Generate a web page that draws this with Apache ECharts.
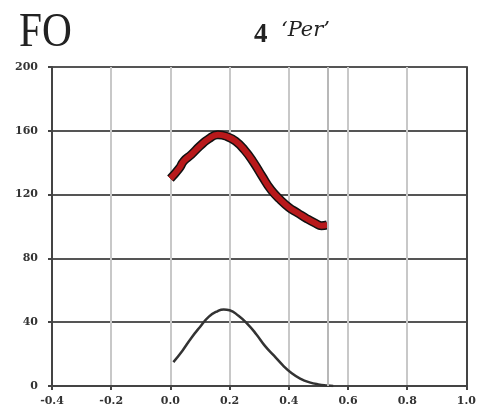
<!DOCTYPE html>
<html>
<head>
<meta charset="utf-8">
<style>
  html, body { margin: 0; padding: 0; background: #fff; }
  #chart { width: 479px; height: 419px; }
</style>
<script src="https://cdn.jsdelivr.net/npm/echarts@6/dist/echarts.min.js"></script>
</head>
<body>
<div id="chart"></div>
<script>
// Fitted profile (red) and the measured points underneath it (black)
const profileX = [0.00, 0.03, 0.045, 0.07, 0.10, 0.13, 0.16, 0.19, 0.22, 0.25, 0.28, 0.31, 0.34, 0.37, 0.40, 0.43, 0.46, 0.49, 0.51, 0.53];
const profileY = [130, 136.5, 141, 145, 150.5, 155, 157.5, 156.5, 153.5, 148, 140.5, 131.5, 123, 117, 112, 108.5, 105, 102, 100.5, 101];

// Lower distribution curve
const distX = [0.01, 0.04, 0.07, 0.10, 0.13, 0.16, 0.18, 0.20, 0.23, 0.26, 0.29, 0.32, 0.35, 0.38, 0.41, 0.44, 0.47, 0.50, 0.53, 0.55];
const distY = [15, 22, 30, 37, 43.5, 47, 48, 47.5, 44, 39, 32.5, 25, 19, 13, 8, 4.5, 2.3, 1, 0.3, 0];

// Axis ticks
const xTicks = [-0.4, -0.2, 0.0, 0.2, 0.4, 0.6, 0.8, 1.0];
const yTicks = [0, 40, 80, 120, 160, 200];

// End of the measured range
const cutoffX = 0.53;

const pairs = (xs, ys) => xs.map((x, i) => [x, ys[i]]);

const tickFont = {
  fontFamily: 'DejaVu Serif',
  fontWeight: 'bold',
  fontSize: 11,
  color: '#333'
};

const chart = echarts.init(document.getElementById('chart'));
chart.setOption({
  animation: false,
  backgroundColor: '#fff',
  grid: { left: 52, right: 7, top: 67, bottom: 33 },
  graphic: [
    {
      type: 'text', left: 19, top: 9, scaleX: 0.86,
      style: { text: 'FO', font: '48px "Liberation Serif"', fill: '#222' }
    },
    {
      type: 'text', left: 254, top: 22,
      style: { text: '4', font: 'bold 27px "Liberation Serif"', fill: '#222' }
    },
    {
      type: 'text', left: 281, top: 20,
      style: { text: '\u2018Per\u2019', font: 'italic 21px "DejaVu Serif"', fill: '#222' }
    }
  ],
  xAxis: {
    type: 'value',
    min: xTicks[0],
    max: xTicks[xTicks.length - 1],
    interval: 0.2,
    axisLine: { show: true, onZero: false, lineStyle: { color: '#444', width: 2 } },
    axisTick: { show: true, length: 4, lineStyle: { color: '#444', width: 2 } },
    axisLabel: Object.assign({ margin: 10, formatter: v => v.toFixed(1) }, tickFont),
    splitLine: { show: true, lineStyle: { color: '#c8c8c8', width: 2 } }
  },
  yAxis: [
    {
      type: 'value',
      min: yTicks[0],
      max: yTicks[yTicks.length - 1],
      interval: 40,
      axisLine: { show: true, onZero: false, lineStyle: { color: '#444', width: 2 } },
      axisTick: { show: true, length: 4, lineStyle: { color: '#444', width: 2 } },
      axisLabel: Object.assign({ margin: 14 }, tickFont),
      splitLine: { show: true, lineStyle: { color: '#555', width: 2 } }
    },
    {
      type: 'value',
      position: 'right',
      min: yTicks[0],
      max: yTicks[yTicks.length - 1],
      interval: 40,
      axisLine: { show: true, onZero: false, lineStyle: { color: '#444', width: 2 } },
      axisTick: { show: false },
      axisLabel: { show: false },
      splitLine: { show: false }
    }
  ],
  series: [
    {
      type: 'line',
      data: pairs(profileX, profileY),
      smooth: true,
      symbol: 'none',
      lineStyle: { color: '#111', width: 9 },
      markLine: {
        silent: true,
        symbol: 'none',
        label: { show: false },
        lineStyle: { color: '#b8b8b8', width: 2, type: 'solid' },
        data: [{ xAxis: cutoffX }]
      },
      z: 2
    },
    {
      type: 'line',
      data: pairs(profileX, profileY),
      smooth: true,
      symbol: 'none',
      lineStyle: { color: '#b8191b', width: 6 },
      z: 3
    },
    {
      type: 'line',
      data: pairs(distX, distY),
      smooth: true,
      symbol: 'none',
      lineStyle: { color: '#333', width: 2.5 },
      z: 3
    }
  ]
});
</script>
</body>
</html>
